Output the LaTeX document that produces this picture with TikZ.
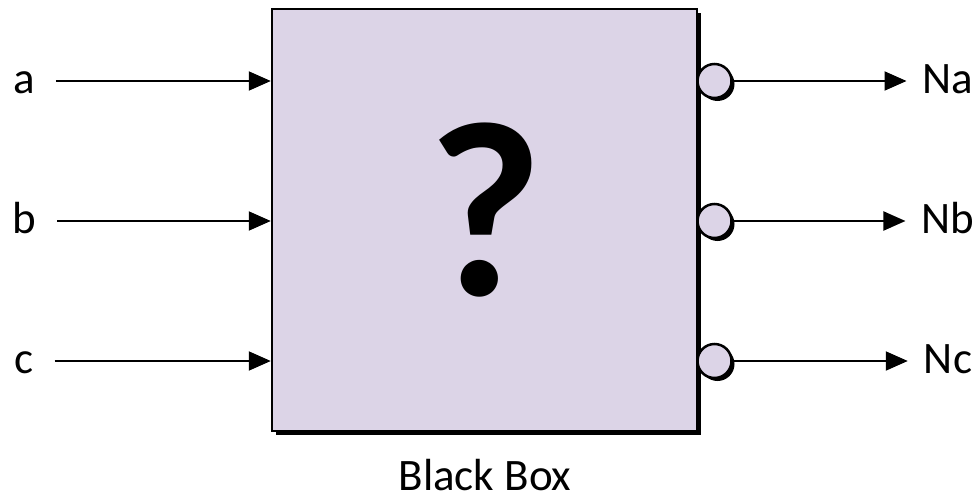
\documentclass[tikz,border=0pt]{standalone}
\usepackage{fontspec}
\setmainfont{Carlito}
\usetikzlibrary{arrows.meta,positioning,shadows}
\definecolor{boxfill}{HTML}{DCD4E7}
\tikzstyle{blackbox} = [rectangle, draw=black, line width=2.5pt, fill=boxfill,
    minimum width=425pt, minimum height=422pt, inner sep=0pt,
    drop shadow={shadow xshift=4pt, shadow yshift=-4pt, opacity=1, fill=black}]
\tikzstyle{port} = [circle, draw=black, line width=2.5pt, fill=boxfill, minimum size=34pt,
    inner sep=0pt, drop shadow={shadow xshift=3pt, shadow yshift=-3pt, opacity=1, fill=black}]
\tikzstyle{arrow} = [-{Triangle[length=22pt,width=19pt]}, line width=2pt]
\tikzstyle{lbl} = [inner sep=3pt, anchor=base, font=\fontsize{45}{45}\selectfont]

\begin{document}
\begin{tikzpicture}[x=1pt, y=-1pt]
\useasboundingbox (0,0) rectangle (979,503);
\node[blackbox] (box) at (484.5,220) {};
\node[inner sep=0pt, font=\fontsize{250}{250}\selectfont\bfseries] (mark) at (485,210) {?};
\node[lbl, inner sep=0pt] (title) at (485,490) {Black Box};

\node[lbl] (a) at (24,93) {a};
\node[lbl] (b) at (24,233) {b};
\node[lbl] (c) at (24,373) {c};

\node[port] (pa) at (714.5,81) {};
\node[port] (pb) at (714.5,221) {};
\node[port] (pc) at (714.5,361) {};

\node[lbl] (na) at (948,93) {Na};
\node[lbl] (nb) at (948,233) {Nb};
\node[lbl] (nc) at (948,373) {Nc};

\draw[arrow, shorten <=18pt] (a.east |- pa) -- (pa -| box.west);
\draw[arrow, shorten <=18pt] (b.east |- pb) -- (pb -| box.west);
\draw[arrow, shorten <=18pt] (c.east |- pc) -- (pc -| box.west);
\draw[arrow, shorten >=13pt] (pa.east) -- (pa -| na.west);
\draw[arrow, shorten >=13pt] (pb.east) -- (pb -| nb.west);
\draw[arrow, shorten >=13pt] (pc.east) -- (pc -| nc.west);
\end{tikzpicture}
\end{document}
